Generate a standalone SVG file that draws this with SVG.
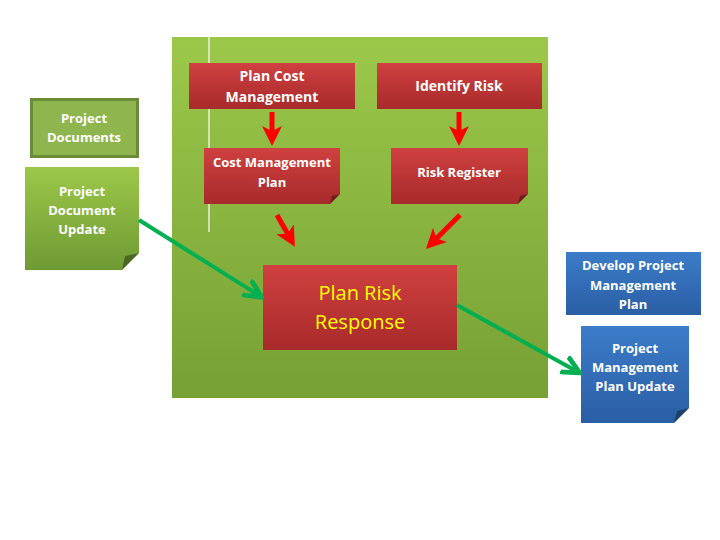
<svg xmlns="http://www.w3.org/2000/svg" width="720" height="540" viewBox="0 0 720 540">
<defs>
<linearGradient id="gp" x1="0" y1="0" x2="0" y2="1"><stop offset="0" stop-color="#9cc84a"/><stop offset="1" stop-color="#77a035"/></linearGradient>
<linearGradient id="rd" x1="0" y1="0" x2="0" y2="1"><stop offset="0" stop-color="#d04040"/><stop offset="1" stop-color="#a82a2a"/></linearGradient>
<linearGradient id="bl" x1="0" y1="0" x2="0" y2="1"><stop offset="0" stop-color="#3c7cc8"/><stop offset="1" stop-color="#2a5ea5"/></linearGradient>
<linearGradient id="gn" x1="0" y1="0" x2="0" y2="1"><stop offset="0" stop-color="#9cc84a"/><stop offset="1" stop-color="#6f9a33"/></linearGradient>
<marker id="ra" markerWidth="4" markerHeight="4" refX="2" refY="2" orient="auto" markerUnits="strokeWidth"><path d="M0,0 L4,2 L0,4 L1,2 Z" fill="#ff0000"/></marker>
<marker id="ga" markerWidth="5" markerHeight="5" refX="4" refY="2.5" orient="auto" markerUnits="strokeWidth"><path d="M0,0.3 L4.5,2.5 L0,4.7" fill="none" stroke="#00b050" stroke-width="1.2"/></marker>
</defs>
<style>
text{font-family:"Open Sans","DejaVu Sans",sans-serif;font-weight:bold;fill:#fff;text-anchor:middle}
.s{font-size:13px}.m{font-size:14px}
.ra{stroke:#ff0000;stroke-width:5;fill:none;marker-end:url(#ra)}
.ga{stroke:#00b050;stroke-width:4;fill:none;marker-end:url(#ga)}
.fold{fill:#000;opacity:.35}
</style>
<rect width="720" height="540" fill="#fff"/>
<g id="panel"><rect x="172" y="37" width="376" height="361" fill="url(#gp)"/><line x1="209" y1="37" x2="209" y2="232" stroke="#fff" stroke-width="1.2"/></g>
<g id="plan-cost"><rect x="189" y="63" width="166" height="46" fill="url(#rd)"/><text class="m" x="272" y="81">Plan Cost</text><text class="m" x="272" y="102">Management</text></g>
<g id="identify-risk"><rect x="377" y="63" width="165" height="46" fill="url(#rd)"/><text class="m" x="459" y="91">Identify Risk</text></g>
<g id="project-documents"><rect x="31.5" y="99.5" width="106" height="57" fill="#8fb54e" stroke="#6a8c38" stroke-width="3"/><text class="s" x="84" y="123">Project</text><text class="s" x="84" y="142">Documents</text></g>
<g id="cost-plan"><path d="M204,148 H340 V194 L330,204 H204 Z" fill="url(#rd)"/><path d="M340,194 L330,204 L332,196 Z" class="fold"/><text class="s" x="272" y="167">Cost Management</text><text class="s" x="272" y="187">Plan</text></g>
<g id="risk-register"><path d="M391,148 H528 V194 L518,204 H391 Z" fill="url(#rd)"/><path d="M528,194 L518,204 L520,196 Z" class="fold"/><text class="s" x="459" y="177">Risk Register</text></g>
<g id="doc-update"><path d="M25,167 H139 V253 L122,270 H25 Z" fill="url(#gn)"/><path d="M139,253 L122,270 L125,256 Z" class="fold"/><text class="s" x="82" y="196">Project</text><text class="s" x="82" y="215">Document</text><text class="s" x="82" y="234">Update</text></g>
<g id="plan-risk-response"><rect x="263" y="265" width="194" height="85" fill="url(#rd)"/><text x="360" y="300" style="font-size:20px;font-weight:normal;fill:#ffff00">Plan Risk</text><text x="360" y="329" style="font-size:20px;font-weight:normal;fill:#ffff00">Response</text></g>
<g id="develop-pmp"><rect x="566" y="252" width="135" height="63" fill="url(#bl)"/><text class="s" x="633" y="270">Develop Project</text><text class="s" x="633" y="290">Management</text><text class="s" x="633" y="309">Plan</text></g>
<g id="pmp-update"><path d="M581,326 H689 V408 L674,423 H581 Z" fill="url(#bl)"/><path d="M689,408 L674,423 L677,411 Z" class="fold"/><text class="s" x="635" y="353">Project</text><text class="s" x="635" y="372">Management</text><text class="s" x="635" y="391">Plan Update</text></g>
<g id="connectors">
<line class="ra" x1="272" y1="112" x2="272" y2="136"/>
<line class="ra" x1="459" y1="112" x2="459" y2="136"/>
<line class="ra" x1="277" y1="215" x2="290" y2="238"/>
<line class="ra" x1="460" y1="215" x2="433" y2="242"/>
<line class="ga" x1="139" y1="220" x2="260" y2="296"/>
<line class="ga" x1="457" y1="305" x2="578" y2="372"/>
</g>
</svg>
